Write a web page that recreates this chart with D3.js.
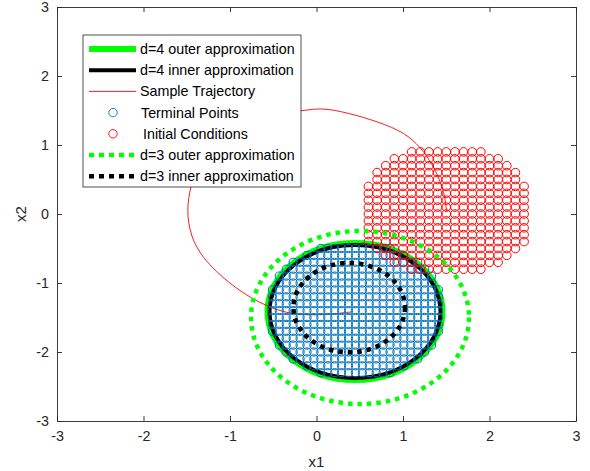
<!DOCTYPE html>
<html>
<head>
<meta charset="utf-8">
<script src="https://cdn.jsdelivr.net/npm/d3@7"></script>
<style>
  body { margin: 0; background: #fff; }
  svg { display: block; font-family: "Liberation Sans", Arial, sans-serif; }
</style>
</head>
<body>
<svg width="590" height="471"></svg>
<script>
// tick values
const xTicks = [-3, -2, -1, 0, 1, 2, 3];
const yTicks = [-3, -2, -1, 0, 1, 2, 3];

// ellipses: d=4 outer, d=4 inner, d=3 outer, d=3 inner
const ellCx = [0.445, 0.445, 0.503, 0.378];
const ellCy = [-1.413, -1.413, -1.5, -1.357];
const ellRx = [1.012, 0.988, 1.26, 0.645];
const ellRy = [0.993, 0.964, 1.254, 0.648];

// sample trajectory
const trajX = [1.505, 1.486, 1.428, 1.312, 1.161, 0.965, 0.618, 0.272, 0.04, -0.179, -0.653, -1.058, -1.347, -1.462, -1.5, -1.462, -1.312, -0.922, -0.576, -0.272, 0.098, 0.422];
const trajY = [0.033, 0.251, 0.493, 0.783, 1.029, 1.217, 1.377, 1.493, 1.536, 1.493, 1.42, 1.217, 0.855, 0.377, 0.058, -0.304, -0.667, -1.101, -1.343, -1.464, -1.464, -1.416];

// initial conditions grid: columns, rows and first/last column used in each row
const icX = [0.6, 0.7, 0.8, 0.9, 1.0, 1.1, 1.2, 1.3, 1.4, 1.5, 1.6, 1.7, 1.8, 1.9, 2.0, 2.1, 2.2, 2.3, 2.4];
const icRowY = [0.9, 0.8, 0.7, 0.6, 0.5, 0.4, 0.3, 0.2, 0.1, 0, -0.1, -0.2, -0.3, -0.4, -0.5, -0.6, -0.7, -0.8];
const icFirst = [5, 3, 2, 1, 1, 0, 0, 0, 0, 0, 0, 0, 0, 0, 1, 2, 3, 5];
const icLast = [13, 15, 16, 17, 17, 18, 18, 18, 18, 18, 18, 18, 18, 18, 17, 16, 15, 13];

// terminal points grid
const tpX = [-0.59, -0.51, -0.43, -0.35, -0.27, -0.19, -0.11, -0.03, 0.05, 0.13, 0.21, 0.29, 0.37, 0.45, 0.53, 0.61, 0.69, 0.77, 0.85, 0.93, 1.01, 1.09, 1.17, 1.25, 1.33, 1.41, 1.49];
const tpRowY = [-0.5, -0.6, -0.7, -0.8, -0.9, -1.0, -1.1, -1.2, -1.3, -1.4, -1.5, -1.6, -1.7, -1.8, -1.9, -2.0, -2.1, -2.2, -2.3];
const tpFirst = [8, 6, 4, 3, 2, 2, 1, 1, 1, 1, 1, 1, 1, 2, 2, 3, 4, 6, 8];
const tpLast = [18, 20, 22, 23, 24, 24, 25, 25, 25, 25, 25, 25, 25, 24, 24, 23, 22, 20, 18];

const legendLabels = ["d=4 outer approximation", "d=4 inner approximation", "Sample Trajectory",
  "Terminal Points", "Initial Conditions", "d=3 outer approximation", "d=3 inner approximation"];

const svg = d3.select("svg");
const x = d3.scaleLinear().domain([-3, 3]).range([57, 576]);
const y = d3.scaleLinear().domain([-3, 3]).range([421, 7]);
const axisCol = "#262626";

// ellipse styles (same order as the ellipse arrays)
const ellStyle = [
  { stroke: "#00ff00", width: 6, dash: null },
  { stroke: "#000000", width: 4, dash: null },
  { stroke: "#00ff00", width: 4.5, dash: "4.5 5" },
  { stroke: "#000000", width: 4.5, dash: "4.5 5" }
];

function drawEllipse(i) {
  const s = ellStyle[i];
  svg.append("ellipse")
    .attr("cx", x(ellCx[i]))
    .attr("cy", y(ellCy[i]))
    .attr("rx", x(ellCx[i] + ellRx[i]) - x(ellCx[i]))
    .attr("ry", y(ellCy[i]) - y(ellCy[i] + ellRy[i]))
    .attr("fill", "none")
    .attr("stroke", s.stroke)
    .attr("stroke-width", s.width)
    .attr("stroke-dasharray", s.dash);
}

function gridPoints(cols, rows, first, last) {
  return rows.flatMap((yy, i) => cols.slice(first[i], last[i] + 1).map(xx => [xx, yy]));
}

drawEllipse(0);
drawEllipse(1);

// trajectory
const line = d3.line().x(d => x(d[0])).y(d => y(d[1])).curve(d3.curveBasis);
svg.append("path")
  .datum(trajX.map((v, i) => [v, trajY[i]]))
  .attr("d", line)
  .attr("fill", "none")
  .attr("stroke", "#ff0000")
  .attr("stroke-width", 0.9);

// terminal points
svg.append("g").selectAll("circle")
  .data(gridPoints(tpX, tpRowY, tpFirst, tpLast))
  .enter().append("circle")
  .attr("cx", d => x(d[0]))
  .attr("cy", d => y(d[1]))
  .attr("r", 4.1)
  .attr("fill", "none")
  .attr("stroke", "#0072bd")
  .attr("stroke-width", 1);

// initial conditions
svg.append("g").selectAll("circle")
  .data(gridPoints(icX, icRowY, icFirst, icLast))
  .enter().append("circle")
  .attr("cx", d => x(d[0]))
  .attr("cy", d => y(d[1]))
  .attr("r", 4.3)
  .attr("fill", "none")
  .attr("stroke", "#ff0000")
  .attr("stroke-width", 1);

drawEllipse(2);
drawEllipse(3);

// axes with inward ticks on all sides
function styleAxis(g) {
  g.attr("font-family", null).attr("font-size", null);
  g.selectAll("path, line").attr("stroke", axisCol).attr("stroke-width", 0.9);
  g.selectAll("text").attr("fill", axisCol).style("font-size", "14.3px");
}
const fmt = d => String(d);
svg.append("g").attr("transform", `translate(0,${y(-3)})`)
  .call(d3.axisBottom(x).tickValues(xTicks).tickSize(-5).tickSizeOuter(0).tickPadding(10).tickFormat(fmt))
  .call(styleAxis);
svg.append("g").attr("transform", `translate(0,${y(3)})`)
  .call(d3.axisTop(x).tickValues(xTicks).tickSize(-5).tickSizeOuter(0).tickFormat(""))
  .call(styleAxis);
svg.append("g").attr("transform", `translate(${x(-3)},0)`)
  .call(d3.axisLeft(y).tickValues(yTicks).tickSize(-5).tickSizeOuter(0).tickPadding(8).tickFormat(fmt))
  .call(styleAxis);
svg.append("g").attr("transform", `translate(${x(3)},0)`)
  .call(d3.axisRight(y).tickValues(yTicks).tickSize(-5).tickSizeOuter(0).tickFormat(""))
  .call(styleAxis);

svg.append("text").attr("x", x(0)).attr("y", 467)
  .attr("text-anchor", "middle").attr("fill", axisCol).style("font-size", "15px").text("x1");
svg.append("text").attr("transform", `translate(26,${y(0)}) rotate(-90)`)
  .attr("text-anchor", "middle").attr("fill", axisCol).style("font-size", "15px").text("x2");

// legend
const leg = svg.append("g");
leg.append("rect").attr("x", 83).attr("y", 35).attr("width", 218).attr("height", 152)
  .attr("fill", "#fff").attr("stroke", axisCol).attr("stroke-width", 0.8);
const legKind = [
  { t: "line", c: "#00ff00", w: 6 },
  { t: "line", c: "#000000", w: 4 },
  { t: "line", c: "#ff0000", w: 0.9 },
  { t: "mark", c: "#0072bd" },
  { t: "mark", c: "#ff0000" },
  { t: "line", c: "#00ff00", w: 4.5, dash: "5 5" },
  { t: "line", c: "#000000", w: 4.5, dash: "5 5" }
];
legendLabels.forEach((lab, i) => {
  const ry = 49 + i * 21.2;
  const k = legKind[i];
  if (k.t === "line") {
    leg.append("line").attr("x1", 89).attr("x2", 136).attr("y1", ry).attr("y2", ry)
      .attr("stroke", k.c).attr("stroke-width", k.w).attr("stroke-dasharray", k.dash || null);
  } else {
    leg.append("circle").attr("cx", 113).attr("cy", ry).attr("r", 4.2)
      .attr("fill", "none").attr("stroke", k.c).attr("stroke-width", 0.9);
  }
  leg.append("text").attr("x", k.t === "mark" ? 141 + (i - 3) * 2 : 140).attr("y", ry).attr("dy", "0.35em")
    .attr("fill", "#000").style("font-size", "14.3px").text(lab);
});
</script>
</body>
</html>
